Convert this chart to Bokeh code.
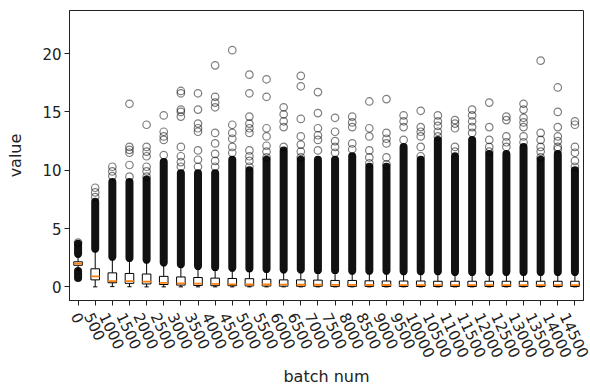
import math
from bokeh.plotting import figure
from bokeh.models import Range1d, FixedTicker, ColumnDataSource, LinearAxis
from bokeh.embed import file_html
from bokeh.resources import INLINE

batch = ["0", "500", "1000", "1500", "2000", "2500", "3000", "3500", "4000", "4500",
         "5000", "5500", "6000", "6500", "7000", "7500", "8000", "8500", "9000", "9500",
         "10000", "10500", "11000", "11500", "12000", "12500", "13000", "13500", "14000", "14500"]

q1 = [1.85, 0.60, 0.35, 0.30, 0.25, 0.20, 0.15, 0.12, 0.10, 0.10,
      0.08, 0.07, 0.06, 0.05, 0.05, 0.04, 0.04, 0.04, 0.03, 0.03,
      0.03, 0.03, 0.03, 0.03, 0.03, 0.03, 0.03, 0.03, 0.03, 0.03]
med = [2.00, 0.90, 0.50, 0.50, 0.45, 0.35, 0.30, 0.28, 0.25, 0.22,
       0.20, 0.20, 0.19, 0.18, 0.18, 0.17, 0.17, 0.16, 0.16, 0.15,
       0.15, 0.15, 0.15, 0.15, 0.15, 0.15, 0.15, 0.15, 0.15, 0.15]
q3 = [2.15, 1.55, 1.20, 1.15, 1.10, 0.90, 0.85, 0.80, 0.75, 0.72,
      0.70, 0.65, 0.60, 0.60, 0.58, 0.55, 0.55, 0.52, 0.50, 0.50,
      0.50, 0.48, 0.48, 0.48, 0.48, 0.48, 0.48, 0.48, 0.48, 0.48]
wlo = [1.45, 0.00, 0.02, 0.01, 0.00, 0.00, 0.00, 0.00, 0.00, 0.00,
       0.00, 0.00, 0.00, 0.00, 0.00, 0.00, 0.00, 0.00, 0.00, 0.00,
       0.00, 0.00, 0.00, 0.00, 0.00, 0.00, 0.00, 0.00, 0.00, 0.00]
whi = [2.55, 3.00, 2.30, 2.20, 2.05, 1.80, 1.65, 1.50, 1.40, 1.35,
       1.30, 1.25, 1.20, 1.20, 1.15, 1.15, 1.10, 1.10, 1.10, 1.05,
       1.05, 1.05, 1.00, 1.00, 1.00, 1.00, 1.00, 1.00, 1.00, 1.00]
# dense (overlapping) outliers above the upper whisker, up to this value
dense_top = [3.70, 7.30, 9.00, 9.00, 9.20, 10.70, 9.75, 9.75, 9.75, 10.90,
             10.00, 10.90, 11.70, 10.90, 10.90, 10.90, 11.20, 10.30, 10.30, 12.00,
             10.90, 12.60, 11.20, 12.60, 11.40, 11.40, 12.00, 10.90, 11.40, 10.00]
# dense outliers below the lower whisker (only first batch)
low_band = [(0.75, 1.35)] + [None] * 29

fliers = [
    [3.8],
    [7.7, 8.1, 8.5],
    [9.5, 9.9, 10.3],
    [9.45, 10.45, 11.5, 11.75, 12.0, 15.7],
    [9.45, 9.9, 10.3, 11.2, 11.6, 12.0, 13.9],
    [11.3, 12.6, 12.9, 13.3, 14.7],
    [10.3, 10.7, 11.2, 12.0, 14.6, 15.0, 15.2, 16.6, 16.8],
    [10.3, 10.9, 11.7, 13.3, 13.6, 14.0, 15.2, 16.6],
    [10.3, 10.8, 11.4, 12.3, 13.2, 15.4, 15.8, 16.3, 19.0],
    [11.5, 12.0, 12.7, 13.2, 13.9, 20.3],
    [10.3, 10.8, 11.2, 11.7, 13.2, 13.6, 14.0, 14.6, 16.6, 18.2],
    [11.1, 11.6, 12.1, 12.9, 13.6, 16.3, 17.8],
    [12.0, 13.7, 14.2, 14.8, 15.4],
    [11.1, 11.6, 12.2, 12.9, 14.4, 17.2, 18.1],
    [11.7, 12.6, 13.0, 13.6, 14.9, 16.7],
    [11.5, 12.0, 12.5, 13.3, 14.5],
    [11.8, 12.3, 13.7, 14.1, 14.6],
    [10.6, 11.1, 11.7, 12.9, 13.6, 15.9],
    [10.5, 11.1, 12.3, 12.7, 13.2, 16.1],
    [12.6, 13.7, 14.2, 14.7],
    [11.2, 12.0, 12.9, 13.3, 13.7, 15.1],
    [12.9, 13.3, 13.8, 14.2, 14.7],
    [11.6, 12.0, 13.6, 14.0, 14.3],
    [13.2, 13.7, 14.2, 14.7, 15.2],
    [11.6, 12.0, 12.6, 13.7, 15.8],
    [12.0, 12.4, 12.9, 14.3, 14.6],
    [12.4, 12.9, 13.7, 14.1, 14.5, 15.2, 15.7],
    [11.1, 11.6, 12.0, 12.6, 13.2, 19.4],
    [11.8, 12.0, 12.5, 12.9, 13.7, 15.0, 17.1],
    [10.3, 10.8, 11.5, 12.0, 13.9, 14.2],
]

yticks = [0, 5, 10, 15, 20]

pos = list(range(1, len(batch) + 1))
BW = 0.5
CW = 0.25
FONT = "DejaVu Sans"
TICK_FS = 15
ANG = 1.13
X0, X1 = 0.5, 30.5
Y0, Y1 = -1.17, 23.7
W, H = 590, 388
BL, BR, BT, BB = 69, 7, 10, 87

p = figure(width=W, height=H, output_backend="svg", toolbar_location=None,
           x_range=Range1d(X0, X1), y_range=Range1d(Y0, Y1),
           min_border_left=BL, min_border_right=BR, min_border_top=BT, min_border_bottom=BB)
p.grid.visible = False
p.outline_line_color = "#222222"
p.outline_line_width = 1
p.background_fill_color = "white"
p.border_fill_color = "white"

src = ColumnDataSource(dict(x=pos, q1=q1, med=med, q3=q3, wlo=wlo, whi=whi, top=dense_top,
                            dstart=[w + 0.3 for w in whi]))

# dense outlier columns
p.segment(x0="x", y0="dstart", x1="x", y1="top", source=src, line_color="#111111",
          line_width=8, line_cap="round")
for i, band in enumerate(low_band):
    if band is not None:
        p.segment(x0=[pos[i]], y0=[band[0]], x1=[pos[i]], y1=[band[1]],
                  line_color="#111111", line_width=8, line_cap="round")

# sparse outliers
fx, fy = [], []
for i, vals in enumerate(fliers):
    for v in vals:
        fx.append(pos[i])
        fy.append(v)
p.scatter(fx, fy, marker="circle", size=7.5, fill_color=None, line_color="#000000",
          line_alpha=0.5, line_width=1.2)

# whiskers
p.segment(x0="x", y0="q3", x1="x", y1="whi", source=src, line_color="black", line_width=1)
p.segment(x0="x", y0="wlo", x1="x", y1="q1", source=src, line_color="black", line_width=1)
src.data["cl"] = [x - CW / 2 for x in pos]
src.data["cr"] = [x + CW / 2 for x in pos]
src.data["bl"] = [x - BW / 2 for x in pos]
src.data["br"] = [x + BW / 2 for x in pos]
p.segment(x0="cl", y0="whi", x1="cr", y1="whi", source=src, line_color="black", line_width=1)
p.segment(x0="cl", y0="wlo", x1="cr", y1="wlo", source=src, line_color="black", line_width=1)

# boxes
p.quad(left="bl", right="br", bottom="q1", top="q3", source=src, fill_color="white",
       line_color="black", line_width=1)
# medians
p.segment(x0="bl", y0="med", x1="br", y1="med", source=src, line_color="#ff7f0e", line_width=1.8)

# axes
p.xaxis.ticker = FixedTicker(ticks=pos)
p.xaxis.major_label_overrides = {x: "" for x in pos}
p.yaxis.ticker = FixedTicker(ticks=yticks)
for ax in (p.xaxis, p.yaxis):
    ax.minor_tick_line_color = None
    ax.major_tick_in = 0
    ax.major_tick_out = 5
    ax.major_tick_line_color = "#222222"
    ax.axis_line_color = "#222222"
    ax.major_label_text_font = FONT
    ax.major_label_text_font_size = "%dpx" % TICK_FS
    ax.major_label_text_color = "#222222"
    ax.axis_label_text_font = FONT
    ax.axis_label_text_font_size = "16px"
    ax.axis_label_text_font_style = "normal"
    ax.axis_label_text_color = "#222222"
p.xaxis.major_label_text_font_size = "1px"
p.xaxis.major_label_standoff = 0
p.yaxis.axis_label = "value"
p.yaxis.major_label_standoff = 3
p.yaxis.axis_label_standoff = 14

# second bottom axis carrying the rotated labels, each centred under its tick
px_per_unit = (W - BL - BR) / (X1 - X0)
lab_ticks, lab_over = [], {}
for x, b in zip(pos, batch):
    w = len(b) * 0.636 * TICK_FS
    t = round(x - (w / 2) * math.cos(ANG) / px_per_unit, 4)
    lab_ticks.append(t)
    lab_over[t] = b
lab_axis = LinearAxis(ticker=FixedTicker(ticks=lab_ticks), major_label_overrides=lab_over,
                      axis_line_color=None, major_tick_line_color=None,
                      minor_tick_line_color=None, major_tick_in=0, major_tick_out=0,
                      major_label_orientation=-ANG, major_label_standoff=8,
                      major_label_text_font=FONT,
                      major_label_text_font_size="%dpx" % TICK_FS,
                      major_label_text_color="#222222",
                      axis_label="batch num", axis_label_standoff=2,
                      axis_label_text_font=FONT, axis_label_text_font_size="16px",
                      axis_label_text_font_style="normal", axis_label_text_color="#222222")
p.add_layout(lab_axis, "below")

open("out.html", "w").write(file_html(p, INLINE))
